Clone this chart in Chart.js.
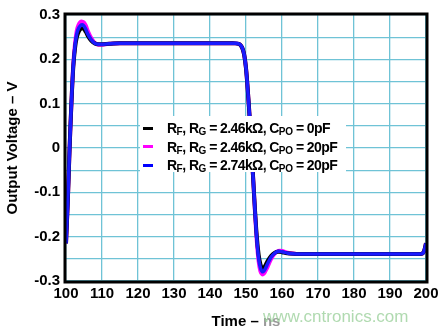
<!DOCTYPE html>
<html>
<head>
<meta charset="utf-8">
<script src="https://cdn.jsdelivr.net/npm/chart.js@4/dist/chart.umd.min.js"></script>
<style>
  html, body { margin: 0; padding: 0; background: #fff; }
  #wrap { position: relative; width: 447px; height: 335px; }
  #leyenda {
    position: absolute; left: 140px; top: 116px; width: 206px; height: 56px;
    background: #fff; font-family: "Liberation Sans", Arial, sans-serif;
    font-weight: bold; font-size: 14px; letter-spacing: -0.6px; color: #000;
  }
  #leyenda .fila { position: absolute; left: 3px; height: 18px; line-height: 18px; white-space: nowrap; }
  #leyenda .marca { display: inline-block; width: 10px; height: 3px; vertical-align: middle; margin-right: 14px; position: relative; top: -1px; }
  #leyenda sub { font-size: 10px; vertical-align: -2px; letter-spacing: -0.3px; }
  #marca-agua {
    position: absolute; left: 263px; top: 307px; font-family: "Liberation Sans", Arial, sans-serif;
    font-size: 17px; color: rgba(150, 205, 150, 0.75); background: rgba(255,255,255,0.6);
  }
</style>
</head>
<body>
<div id="wrap">
  <canvas id="grafico" width="447" height="335"></canvas>
  <div id="leyenda"></div>
  <div id="marca-agua">www.cntronics.com</div>
</div>
<script>
// datos
const tiempos = [100, 100.5, 101, 101.5, 102, 102.5, 103, 103.5, 104, 104.5, 105, 105.5, 106, 107, 108, 109, 110, 112, 115, 120, 130, 140, 145, 147, 148, 148.5, 149, 149.5, 150, 150.5, 151, 151.5, 152, 152.5, 153, 153.5, 154, 154.5, 155, 155.5, 156, 157, 158, 159, 160, 161, 162, 164, 167, 170, 180, 190, 198, 199, 199.5, 200];

const serieNegra = [-0.215, -0.12, 0.0, 0.10, 0.18, 0.225, 0.25, 0.262, 0.268, 0.27, 0.268, 0.262, 0.254, 0.242, 0.236, 0.234, 0.234, 0.235, 0.236, 0.236, 0.236, 0.236, 0.236, 0.236, 0.235, 0.232, 0.225, 0.21, 0.18, 0.13, 0.07, 0.0, -0.07, -0.14, -0.2, -0.24, -0.262, -0.272, -0.27, -0.263, -0.255, -0.243, -0.236, -0.234, -0.235, -0.237, -0.238, -0.239, -0.239, -0.239, -0.239, -0.239, -0.239, -0.238, -0.232, -0.215];

const serieMagenta = [-0.215, -0.12, 0.0, 0.10, 0.185, 0.235, 0.265, 0.278, 0.284, 0.285, 0.283, 0.276, 0.265, 0.248, 0.237, 0.233, 0.233, 0.235, 0.236, 0.236, 0.236, 0.236, 0.236, 0.236, 0.235, 0.232, 0.225, 0.21, 0.18, 0.13, 0.07, 0.0, -0.07, -0.145, -0.21, -0.255, -0.278, -0.285, -0.283, -0.276, -0.268, -0.25, -0.238, -0.232, -0.232, -0.235, -0.237, -0.239, -0.239, -0.239, -0.239, -0.239, -0.239, -0.238, -0.232, -0.215];

const serieAzul = [-0.215, -0.12, 0.0, 0.10, 0.182, 0.23, 0.258, 0.27, 0.276, 0.278, 0.275, 0.268, 0.258, 0.244, 0.236, 0.234, 0.234, 0.235, 0.236, 0.236, 0.236, 0.236, 0.236, 0.236, 0.235, 0.232, 0.225, 0.21, 0.18, 0.13, 0.07, 0.0, -0.07, -0.142, -0.205, -0.248, -0.27, -0.279, -0.277, -0.27, -0.261, -0.246, -0.237, -0.233, -0.234, -0.236, -0.238, -0.239, -0.239, -0.239, -0.239, -0.239, -0.239, -0.238, -0.232, -0.215];

const etiquetasLeyenda = [
  ['R<sub>F</sub>, R<sub>G</sub> = 2.46kΩ, C<sub>PO</sub> = 0pF', '#000000'],
  ['R<sub>F</sub>, R<sub>G</sub> = 2.46kΩ, C<sub>PO</sub> = 20pF', '#ff00ff'],
  ['R<sub>F</sub>, R<sub>G</sub> = 2.74kΩ, C<sub>PO</sub> = 20pF', '#0000ff']
];

const xMin = 100, xMax = 200, yMin = -0.3, yMax = 0.3;

function puntos(valores) {
  return tiempos.map((t, i) => ({ x: t, y: valores[i] }));
}

// leyenda en HTML (con subindices)
const leyenda = document.getElementById('leyenda');
etiquetasLeyenda.forEach(function (e, i) {
  const fila = document.createElement('div');
  fila.className = 'fila';
  fila.style.top = (3 + i * 18.5) + 'px';
  fila.innerHTML = '<span class="marca" style="background:' + e[1] + '"></span>' + e[0];
  leyenda.appendChild(fila);
});

// marco negro alrededor del area del grafico
const marco = {
  id: 'marco',
  afterDraw(chart) {
    const a = chart.chartArea;
    const c = chart.ctx;
    c.save();
    c.strokeStyle = '#000';
    c.lineWidth = 3;
    c.strokeRect(a.left - 1, a.top - 1, a.right - a.left + 2, a.bottom - a.top + 2);
    c.restore();
  }
};

const fuente = { family: '"Liberation Sans", Arial, sans-serif', weight: 'bold', size: 15 };
const rejilla = { color: '#6fc3d6', lineWidth: 1.3, drawTicks: false };

const grafico = new Chart(document.getElementById('grafico').getContext('2d'), {
  type: 'line',
  data: {
    datasets: [
      { label: 'magenta', data: puntos(serieMagenta), borderColor: '#ff00ff', borderWidth: 4, pointRadius: 0, tension: 0.3, order: 3 },
      { label: 'negra', data: puntos(serieNegra), borderColor: '#000000', borderWidth: 4, pointRadius: 0, tension: 0.3, order: 2 },
      { label: 'azul', data: puntos(serieAzul), borderColor: '#1a1aff', borderWidth: 3.5, pointRadius: 0, tension: 0.3, order: 1 }
    ]
  },
  options: {
    responsive: false,
    animation: false,
    layout: { padding: { top: 12, right: 21, left: 0, bottom: 0 } },
    plugins: { legend: { display: false }, tooltip: { enabled: false } },
    scales: {
      x: {
        type: 'linear', min: xMin, max: xMax,
        afterFit(s) { s.height = 54; },
        border: { display: false },
        grid: Object.assign({}, rejilla, { borderDash: [2, 2] }),
        ticks: { stepSize: 10, color: '#000', font: fuente, padding: 4, maxRotation: 0 },
        title: { display: true, text: 'Time – ns', color: '#000', font: { family: fuente.family, weight: 'bold', size: 15 }, padding: { top: 6 } }
      },
      y: {
        min: yMin, max: yMax,
        afterFit(s) { s.width = 66; },
        border: { display: false },
        grid: Object.assign({}, rejilla, { borderDash: [2, 2] }),
        ticks: {
          stepSize: 0.05, color: '#000', font: fuente, padding: 6,
          callback: function (v) {
            const k = Math.round(v * 100);
            if (k % 10 !== 0) return '';
            return k === 0 ? '0' : (k / 100).toFixed(1);
          }
        },
        title: { display: true, text: 'Output Voltage – V', color: '#000', font: { family: fuente.family, weight: 'bold', size: 15 }, padding: { bottom: 0 } }
      }
    }
  },
  plugins: [marco]
});
</script>
</body>
</html>
